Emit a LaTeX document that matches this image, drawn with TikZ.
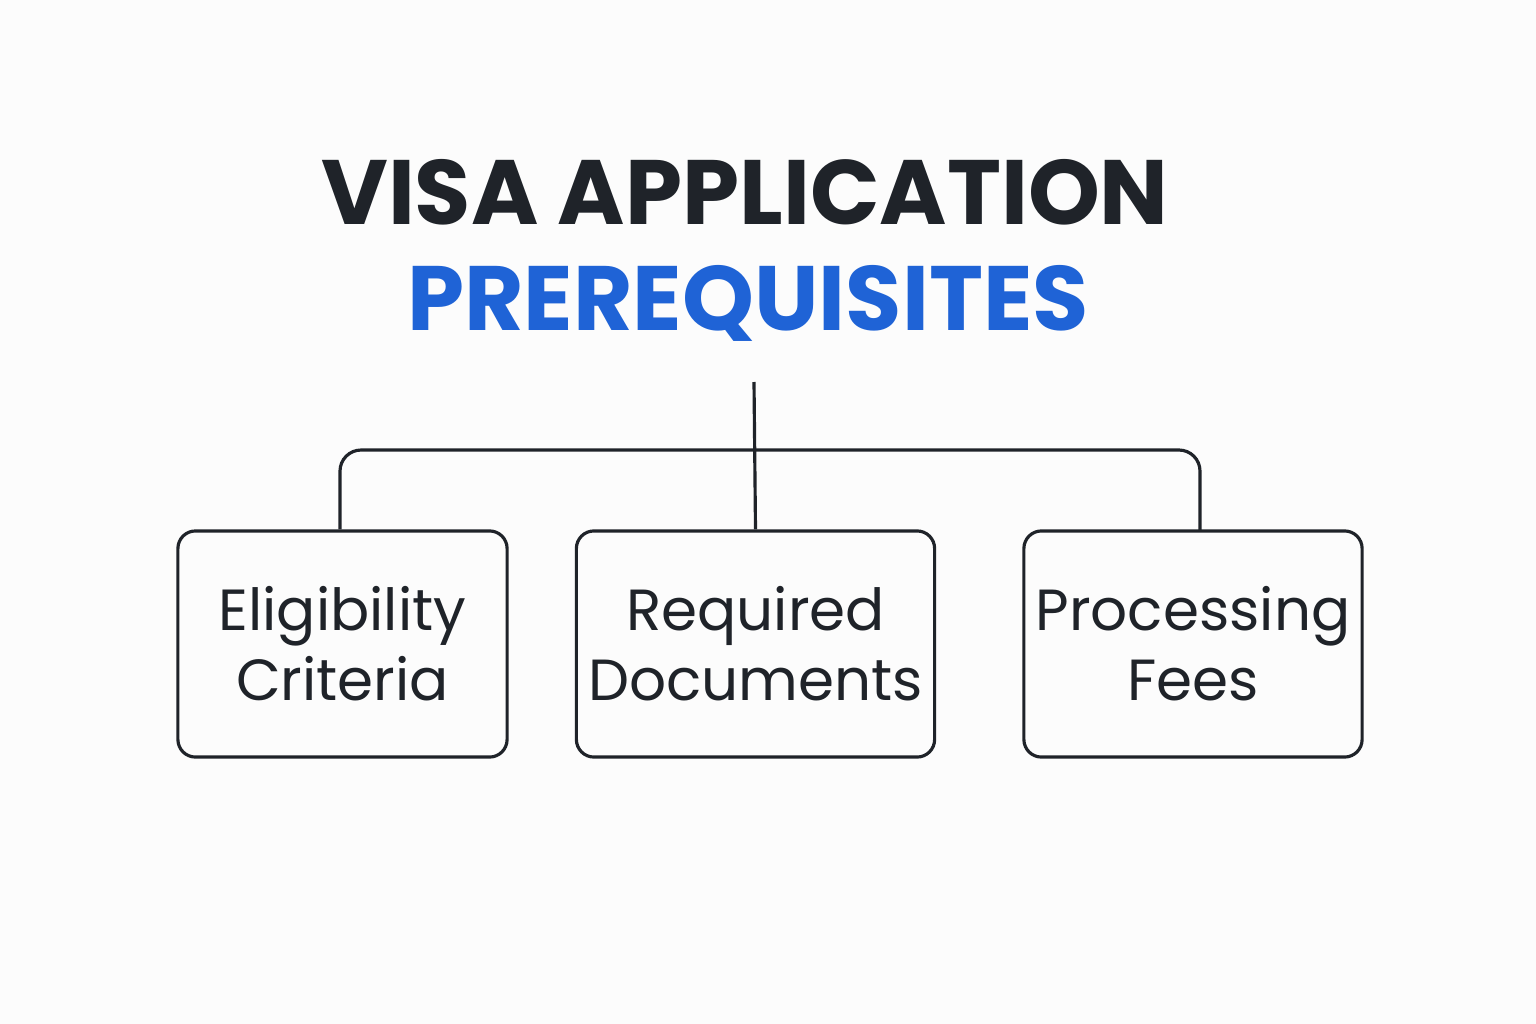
\documentclass[tikz,border=0pt]{standalone}
\usepackage{fontspec}
\setmainfont{Poppins}
\definecolor{ink}{HTML}{1F2329}
\definecolor{blu}{HTML}{1F63D6}
\begin{document}
\begin{tikzpicture}[x=0.01cm,y=-0.01cm,
  box/.style={draw=ink,line width=0.9pt,rounded corners=5pt,minimum width=3.29cm,minimum height=2.26cm,align=center,text=ink,font=\fontsize{16.5}{20}\selectfont},
  conn/.style={draw=ink,line width=0.9pt,rounded corners=6pt}]
\fill[white!98!gray] (0,0) rectangle (1536,1024);
\useasboundingbox (0,0) rectangle (1536,1024);
\node[text=ink,font=\fontsize{26}{30}\selectfont\bfseries] (t1) at (745,192) {VISA APPLICATION};
\node[text=blu,font=\fontsize{26}{30}\selectfont\bfseries] (t2) at (748,303) {PREREQUISITES};
\coordinate (top) at (754,382);
\node[box] (a) at (342.5,644) {Eligibility\\Criteria};
\node[box] (b) at (755.5,644) {Required\\Documents};
\node[box] (c) at (1193,644) {Processing\\Fees};
\draw[conn] (top) -- (b.north);
\draw[conn] (a.north -| 340,0) ++(0,0) -- (340,450) -- (1200,450) -- (1200,531);
\end{tikzpicture}
\end{document}
